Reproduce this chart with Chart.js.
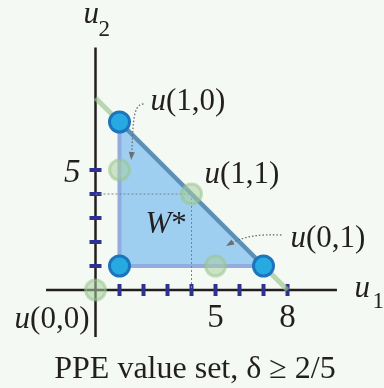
<!DOCTYPE html>
<html>
<head>
<meta charset="utf-8">
<script src="https://cdn.jsdelivr.net/npm/chart.js"></script>
<style>
  html, body { margin: 0; padding: 0; background: #f5f9f4; }
  canvas { display: block; }
</style>
</head>
<body>
<canvas id="ppe" width="384" height="388"></canvas>
<script>
  // stage payoffs u(a1,a2)
  const payoffNames = ['u(0,0)', 'u(1,0)', 'u(0,1)', 'u(1,1)'];
  const payoffU1 = [0, 1, 5, 4];
  const payoffU2 = [0, 5, 1, 4];

  // W* corners: bottom-left, top, right
  const wStarU1 = [1, 1, 7];
  const wStarU2 = [1, 7, 1];

  // u1 + u2 = 8 frontier
  const frontierU1 = [0, 8];
  const frontierU2 = [8, 0];

  const xTicks = [1, 2, 3, 4, 5, 6, 7, 8];
  const yTicks = [1, 2, 3, 4, 5];
  const xTickLabels = ['5', '8'];
  const xTickLabelValues = [5, 8];
  const yTickLabels = ['5'];
  const yTickLabelValues = [5];

  const title = 'PPE value set, δ ≥ 2/5';

  const pts = (xs, ys) => xs.map((x, i) => ({ x: x, y: ys[i] }));
  const pick = (idx) => idx.map(i => ({ x: wStarU1[i], y: wStarU2[i] }));

  const SERIF = '"Liberation Serif", "DejaVu Serif", serif';

  // text runs: [string, italic?]
  const drawRuns = (ctx, runs, x, y, size, align) => {
    let total = 0;
    const widths = runs.map(r => {
      ctx.font = (r[1] ? 'italic ' : '') + size + 'px ' + SERIF;
      const w = ctx.measureText(r[0]).width;
      total += w;
      return w;
    });
    let cx = align === 'right' ? x - total : align === 'center' ? x - total / 2 : x;
    runs.forEach((r, i) => {
      ctx.font = (r[1] ? 'italic ' : '') + size + 'px ' + SERIF;
      ctx.fillText(r[0], cx, y);
      cx += widths[i];
    });
  };

  const splitName = (name) => [[name.slice(0, 1), true], [name.slice(1), false]];

  const dottedArrow = (ctx, p0, c1, c2, p1) => {
    ctx.save();
    ctx.strokeStyle = '#6d6e71';
    ctx.fillStyle = '#6d6e71';
    ctx.lineWidth = 1.3;
    ctx.setLineDash([1.5, 2]);
    ctx.beginPath();
    ctx.moveTo(p0[0], p0[1]);
    ctx.bezierCurveTo(c1[0], c1[1], c2[0], c2[1], p1[0], p1[1]);
    ctx.stroke();
    ctx.setLineDash([]);
    const a = Math.atan2(p1[1] - c2[1], p1[0] - c2[0]);
    ctx.beginPath();
    ctx.moveTo(p1[0] + 4 * Math.cos(a), p1[1] + 4 * Math.sin(a));
    ctx.lineTo(p1[0] - 4 * Math.cos(a) + 3 * Math.sin(a), p1[1] - 4 * Math.sin(a) - 3 * Math.cos(a));
    ctx.lineTo(p1[0] - 4 * Math.cos(a) - 3 * Math.sin(a), p1[1] - 4 * Math.sin(a) + 3 * Math.cos(a));
    ctx.closePath();
    ctx.fill();
    ctx.restore();
  };

  const annotations = {
    id: 'annotations',
    afterDraw(chart) {
      const ctx = chart.ctx;
      const sx = chart.scales.x, sy = chart.scales.y;
      const px = v => sx.getPixelForValue(v);
      const py = v => sy.getPixelForValue(v);
      ctx.save();
      ctx.fillStyle = '#231f20';
      ctx.textBaseline = 'alphabetic';

      // tick labels
      xTickLabels.forEach((t, i) => drawRuns(ctx, [[t, false]], px(xTickLabelValues[i]), py(0) + 37, 33, 'center'));
      yTickLabels.forEach((t, i) => drawRuns(ctx, [[t, true]], px(0) - 15, py(yTickLabelValues[i]) + 12, 33, 'right'));

      // axis names
      drawRuns(ctx, [['u', true]], px(0) - 12, py(0) - 267, 31, 'left');
      drawRuns(ctx, [['2', false]], px(0) + 3, py(0) - 254, 23, 'left');
      drawRuns(ctx, [['u', true]], px(0) + 259, py(0) + 7, 31, 'left');
      drawRuns(ctx, [['1', false]], px(0) + 277, py(0) + 18, 23, 'left');

      // payoff labels
      const offsets = [[-6, 38, 'right'], [31, -60, 'left'], [75, -19, 'left'], [13, -11, 'left']];
      payoffNames.forEach((n, i) => {
        const o = offsets[i];
        drawRuns(ctx, splitName(n), px(payoffU1[i]) + o[0], py(payoffU2[i]) + o[1], 31, o[2]);
      });

      // W*
      drawRuns(ctx, [['W', true], ['*', false]], px(wStarU1[0]) + 26, py(wStarU2[0]) - 33, 31, 'left');

      // pointers from labels to points
      const p10 = [px(payoffU1[1]), py(payoffU2[1])];
      dottedArrow(ctx, [p10[0] + 24, p10[1] - 66], [p10[0] + 12, p10[1] - 66], [p10[0] + 14, p10[1] - 40], [p10[0] + 12, p10[1] - 14]);
      const p01 = [px(payoffU1[2]), py(payoffU2[2])];
      dottedArrow(ctx, [p01[0] + 66, p01[1] - 31], [p01[0] + 45, p01[1] - 32], [p01[0] + 28, p01[1] - 30], [p01[0] + 14, p01[1] - 22]);

      // caption
      drawRuns(ctx, [[title, false]], chart.width / 2 + 3, 378, 32, 'center');
      ctx.restore();
    }
  };

  new Chart(document.getElementById('ppe'), {
    type: 'scatter',
    data: {
      datasets: [
        {
          // stage payoffs
          data: pts(payoffU1, payoffU2),
          pointRadius: 10,
          pointBackgroundColor: 'rgba(170, 208, 160, 0.55)',
          pointBorderColor: 'rgba(150, 196, 140, 0.55)',
          pointBorderWidth: 3,
          order: 2
        },
        {
          // W* corners
          data: pts(wStarU1, wStarU2),
          pointRadius: 10,
          pointBackgroundColor: '#27aae1',
          pointBorderColor: '#1c75bc',
          pointBorderWidth: 3,
          order: 1
        },
        {
          // W* left and bottom edges
          type: 'line',
          data: pick([1, 0, 2]),
          borderColor: '#92acdf',
          borderWidth: 4,
          pointRadius: 0,
          fill: false,
          order: 3.5
        },
        {
          // W* hypotenuse, filled down to u2 = 1
          type: 'line',
          data: pick([1, 2]),
          fill: { value: wStarU2[0] },
          backgroundColor: 'rgba(150, 202, 240, 0.9)',
          borderColor: '#5b8fb8',
          borderWidth: 4,
          pointRadius: 0,
          order: 4
        },
        {
          type: 'line',
          data: pts(frontierU1, frontierU2),
          borderColor: 'rgba(150, 196, 140, 0.65)',
          borderWidth: 5,
          pointRadius: 0,
          fill: false,
          order: 5
        },
        {
          // guides to u(1,1)
          type: 'line',
          data: [{ x: 0, y: payoffU2[3] }, { x: payoffU1[3], y: payoffU2[3] }, { x: payoffU1[3], y: 0 }],
          borderColor: '#808285',
          borderWidth: 1,
          borderDash: [2, 2],
          pointRadius: 0,
          fill: false,
          order: 3
        },
        {
          // x ticks
          data: xTicks.map(v => ({ x: v, y: 0 })),
          pointStyle: 'line',
          rotation: 90,
          pointRadius: 6,
          pointBorderColor: '#2e3192',
          pointBorderWidth: 4,
          order: 6
        },
        {
          // y ticks
          data: yTicks.map(v => ({ x: 0, y: v })),
          pointStyle: 'line',
          rotation: 0,
          pointRadius: 6,
          pointBorderColor: '#2e3192',
          pointBorderWidth: 4,
          order: 6
        },
        {
          type: 'line',
          data: [{ x: -2.06, y: 0 }, { x: 10.06, y: 0 }],
          borderColor: '#231f20',
          borderWidth: 2.5,
          pointRadius: 0,
          fill: false,
          order: 7
        },
        {
          type: 'line',
          data: [{ x: 0, y: -1.96 }, { x: 0, y: 10.1 }],
          borderColor: '#231f20',
          borderWidth: 2.5,
          pointRadius: 0,
          fill: false,
          order: 7
        }
      ]
    },
    options: {
      responsive: false,
      animation: false,
      devicePixelRatio: 1,
      layout: { padding: 0, autoPadding: false },
      scales: {
        x: { type: 'linear', display: false, min: -95.5 / 24, max: -95.5 / 24 + 384 / 24 },
        y: { type: 'linear', display: false, min: 290 / 24 - 388 / 24, max: 290 / 24 }
      },
      plugins: {
        legend: { display: false },
        tooltip: { enabled: false },
        title: { display: false }
      }
    },
    plugins: [annotations]
  });
</script>
</body>
</html>
